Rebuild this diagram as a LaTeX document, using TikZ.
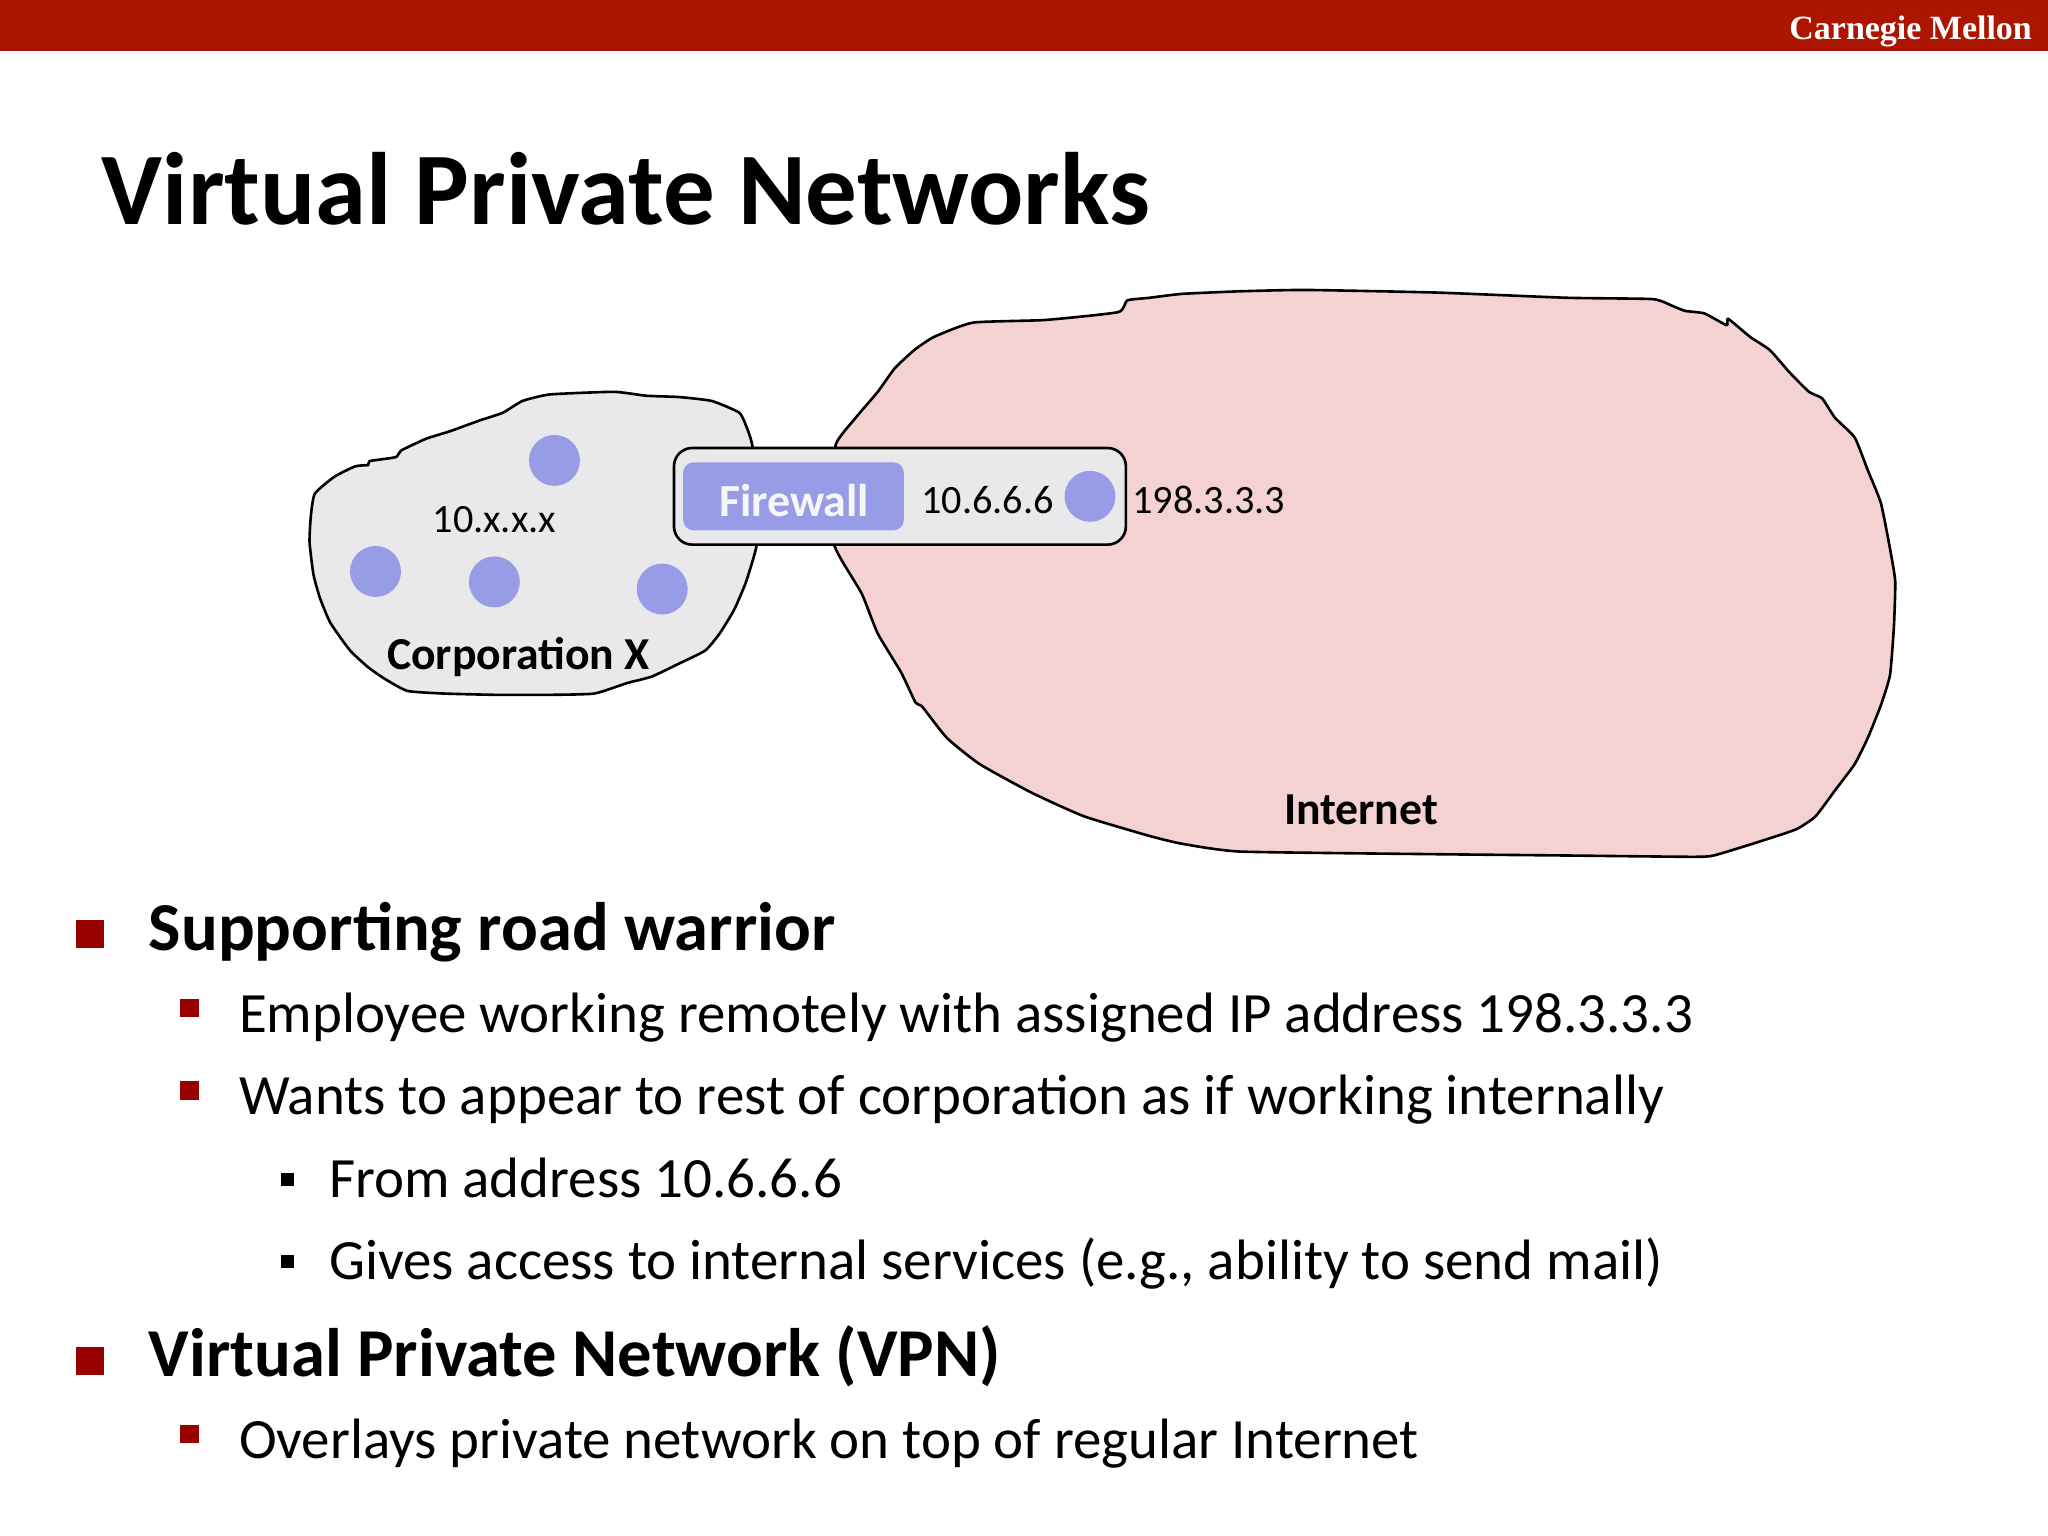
\documentclass[tikz,border=0pt]{standalone}
\usepackage{fontspec}
\setmainfont{Carlito}
\newfontfamily\cmufont{Liberation Serif}
\definecolor{hdr}{HTML}{AC1600}
\definecolor{bul}{HTML}{990000}
\definecolor{host}{HTML}{989CE6}
\definecolor{corpfill}{HTML}{E9E9EC}
\definecolor{netfill}{HTML}{F4D2D2}
\tikzset{
  txt/.style={anchor=base west,inner sep=0pt,outer sep=0pt,text=black},
  lvla/.style={txt,font=\fontsize{26.25}{30}\selectfont\bfseries},
  lvlb/.style={txt,font=\fontsize{21.8}{26}\selectfont},
  lbl/.style={inner sep=0pt,outer sep=0pt,font=\fontsize{15.4}{18}\selectfont},
  lblb/.style={inner sep=0pt,outer sep=0pt,font=\fontsize{17.5}{20}\selectfont\bfseries},
  hostdot/.style={circle,fill=host,draw=none,minimum size=19.5pt,inner sep=0pt},
  blob/.style={draw=black,line width=1pt,line join=round},
  bigb/.style={fill=bul,draw=none},
}
\begin{document}
\begin{tikzpicture}[x=0.5pt,y=-0.5pt]
\useasboundingbox (0,0) rectangle (1568,1176);
\fill[white] (0,0) rectangle (1568,1176);
\fill[hdr] (0,0) rectangle (1568,39);
\node[anchor=base east,inner sep=0pt,text=white,font=\cmufont\fontsize{13}{15}\selectfont\bfseries] (cmu) at (1556,30) {Carnegie Mellon};
\node[txt,font=\fontsize{39.4}{44}\selectfont\bfseries] (title) at (78,172) {Virtual Private Networks};
% Internet cloud
\draw[blob,fill=netfill] plot[smooth cycle,tension=0.3] coordinates {
(640,340)(655,320)(672,300)(685,282)(700,268)(715,258)(745,247)(800,245)(856,239)(863,230)(880,228)(905,225)(950,223)(1000,222)(1100,224)(1200,228)(1265,229)(1280,234)(1290,238)(1305,240)(1322,249)(1323,244)(1340,258)(1355,268)(1370,285)(1385,300)(1395,305)(1405,320)(1420,335)(1430,360)(1440,385)(1447,420)(1451,445)(1450,480)(1447,517)(1440,540)(1430,565)(1420,585)(1405,605)(1390,625)(1375,635)(1345,645)(1312,655)(1295,656)(1200,655)(1100,654)(950,652)(905,646)(880,640)(830,625)(790,607)(750,585)(725,565)(706,541)(701,538)(690,515)(672,485)(660,455)(645,430)(638,415)(636,380)};
% Corporation cloud
\draw[blob,fill=corpfill] plot[smooth cycle,tension=0.3] coordinates {
(237,415)(238,395)(241,378)(256,365)(272,357)(282,356)(283,353)(303,350)(307,345)(326,336)(345,330)(367,322)(385,316)(400,307)(421,302)(470,300)(495,303)(520,304)(545,307)(566,316)(572,328)(576,341)(582,385)(579,419)(571,446)(562,467)(551,485)(540,498)(520,508)(499,518)(480,523)(455,531)(420,532)(380,532)(340,531)(312,529)(295,520)(282,511)(268,498)(253,477)(245,458)(240,440)};
% Firewall box
\draw[fill=corpfill,draw=black,line width=1pt,rounded corners=7pt] (516,343) rectangle (862,417);
\fill[host,rounded corners=4pt] (523,354) rectangle (692,406);
\node[inner sep=0pt,text=corpfill!40!white,font=\fontsize{17.6}{20}\selectfont\bfseries] (fw) at (608,383) {Firewall};
\node[hostdot] (h0) at (834.5,380) {};
\node[hostdot] (h1) at (424.5,352.5) {};
\node[hostdot] (h2) at (287.5,437.5) {};
\node[hostdot] (h3) at (378.5,445.5) {};
\node[hostdot] (h4) at (507,451) {};
\node[lbl] (a) at (756,383) {10.6.6.6};
\node[lbl] (b) at (925.5,383) {198.3.3.3};
\node[lbl] (c) at (378.5,398) {10.x.x.x};
\node[lblb] (corp) at (397,503) {Corporation X};
\node[lblb] (net) at (1042,620) {Internet};
% bullets
\fill[bigb] (58,704) rectangle (80,726);
\fill[bigb] (58,1031) rectangle (80,1053);
\fill[bigb] (138,765) rectangle (152,779);
\fill[bigb] (138,828) rectangle (152,842);
\fill[bigb] (138,1091) rectangle (152,1105);
\fill[black] (215,898) rectangle (225,908);
\fill[black] (215,961) rectangle (225,971);
\node[lvla] (t1) at (114,727.5) {Supporting road warrior};
\node[lvlb] (t2) at (183,790.5) {Employee working remotely with assigned IP address 198.3.3.3};
\node[lvlb] (t3) at (183,853.5) {Wants to appear to rest of corporation as if working internally};
\node[lvlb] (t4) at (252,916.5) {From address 10.6.6.6};
\node[lvlb] (t5) at (252,979.5) {Gives access to internal services (e.g., ability to send mail)};
\node[lvla] (t6) at (114,1053.5) {Virtual Private Network (VPN)};
\node[lvlb] (t7) at (183,1116.5) {Overlays private network on top of regular Internet};
\end{tikzpicture}
\end{document}
